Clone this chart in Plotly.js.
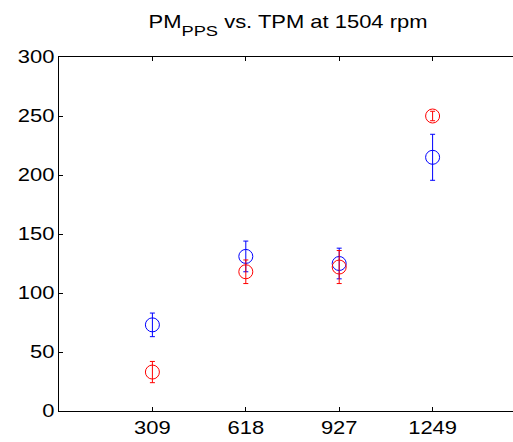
<!DOCTYPE html>
<html>
<head>
<meta charset="utf-8">
<script src="https://cdn.plot.ly/plotly-3.0.1.min.js"></script>
<style>
html, body { margin: 0; padding: 0; overflow: hidden; background: #fff; }
#chart { width: 530px; height: 442px; }
</style>
</head>
<body>
<div id="chart"></div>
<script>
var categories = ['309', '618', '927', '1249'];
var blueValues = [73, 131, 125, 215];
var blueErrors = [10, 13, 13, 19.5];
var redValues = [33, 118, 122, 250];
var redErrors = [9, 10, 14, 4];
var yTicks = [0, 50, 100, 150, 200, 250, 300];

function series(vals, errs, color) {
  return {
    type: 'scatter', mode: 'markers',
    x: categories, y: vals,
    marker: { symbol: 'circle-open', size: 14, color: color, line: { width: 1, color: color } },
    error_y: { type: 'data', array: errs, visible: true, color: color, thickness: 1, width: 2.5 },
    showlegend: false, hoverinfo: 'skip'
  };
}

var data = [series(blueValues, blueErrors, '#0000ff'), series(redValues, redErrors, '#ff0000')];
var font = { family: 'Liberation Sans, Arial, sans-serif', size: 18, color: '#000' };
var layout = {
  width: 530, height: 442,
  margin: { l: 59, r: 4, t: 57, b: 31 },
  paper_bgcolor: '#fff', plot_bgcolor: '#fff',
  font: font,
  title: {
    text: 'PM<sub><span style="font-size:15px">PPS</span></sub> vs. TPM at 1504 rpm',
    font: { family: font.family, size: 18, color: '#000' },
    x: 0.5434, xanchor: 'center', y: 0.95, yanchor: 'middle'
  },
  xaxis: {
    type: 'category', range: [-1, 4], categoryorder: 'array', categoryarray: categories,
    showline: true, mirror: 'ticks', linecolor: '#000', linewidth: 1,
    ticks: 'inside', ticklen: 4, tickcolor: '#000', showgrid: false, zeroline: false,
    tickfont: font
  },
  yaxis: {
    range: [0, 300], tickvals: yTicks, ticktext: yTicks.map(String),
    showline: true, mirror: 'ticks', linecolor: '#000', linewidth: 1,
    ticks: 'inside', ticklen: 4, tickcolor: '#000', showgrid: false, zeroline: false,
    tickfont: font
  }
};

function widen(gd) {
  var s = 1.22;
  var els = gd.querySelectorAll('.xtick text, .ytick text, .gtitle');
  els.forEach(function (el) {
    var b = el.getBBox();
    var anchor = el.getAttribute('text-anchor') || 'start';
    var cx = anchor === 'end' ? b.x + b.width : (anchor === 'middle' ? b.x + b.width / 2 : b.x);
    var t = el.getAttribute('transform') || '';
    el.setAttribute('transform', t + ' translate(' + cx + ',0) scale(' + s + ',1) translate(' + (-cx) + ',0)');
  });
  // lower the subscript a little more, as in the reference
  var title = gd.querySelector('.gtitle');
  if (title) {
    var tspans = title.querySelectorAll('tspan');
    tspans.forEach(function (ts) {
      if (ts.textContent === 'PPS' && ts.parentNode === title) {
        ts.setAttribute('dy', '8');
        var next = ts.nextSibling;
        if (next && next.getAttribute && next.getAttribute('dy') !== null) next.setAttribute('dy', '-8');
      }
    });
  }
}

Plotly.newPlot('chart', data, layout, { staticPlot: true, displayModeBar: false }).then(widen);
</script>
</body>
</html>
